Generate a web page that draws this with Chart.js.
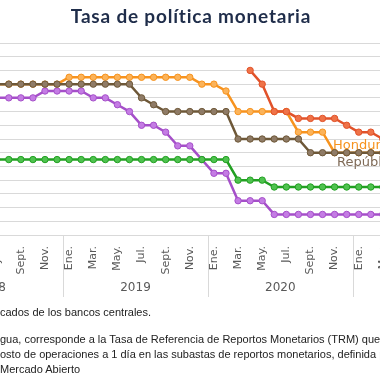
<!DOCTYPE html>
<html><head><meta charset="utf-8">
<script src="https://cdn.jsdelivr.net/npm/chart.js@4/dist/chart.umd.min.js"></script>
<style>
html,body{margin:0;padding:0;width:380px;height:380px;overflow:hidden;background:#fff;}
#wrap{position:relative;width:380px;height:380px;overflow:hidden;}
#title{position:absolute;left:0;top:4px;width:382px;text-align:center;font:bold 19px Lato, sans-serif;letter-spacing:0.8px;color:#1F2D4A;}
#c{position:absolute;top:0;left:-9px;}
.lbl{position:absolute;white-space:nowrap;font:13px 'DejaVu Sans', sans-serif;line-height:16px;}
.note{position:absolute;left:0;white-space:nowrap;font:11px 'Liberation Sans', Arial, sans-serif;color:#222;line-height:13px;}
</style></head><body>
<div id="wrap">
<canvas id="c" width="397" height="380"></canvas>
<div id="title">Tasa de política monetaria</div>
<div class="lbl" style="left:333px;top:137px;color:#F7931E">Honduras</div>
<div class="lbl" style="left:337px;top:154px;color:#7F6B58">República Dominicana</div>
<div class="note" style="top:306px">cados de los bancos centrales.</div>
<div class="note" style="top:333px">gua, corresponde a la Tasa de Referencia de Reportos Monetarios (TRM) que</div>
<div class="note" style="top:348px">osto de operaciones a 1 día en las subastas de reportos monetarios, definida por el</div>
<div class="note" style="top:363px">Mercado Abierto</div>
</div>
<script>
// Categories: monthly, Jul 2018 .. Mar 2021
const categories = ['Jul.','Ago.','Sept.','Oct.','Nov.','Dic.',
  'Ene.','Feb.','Mar.','Abr.','May.','Jun.','Jul.','Ago.','Sept.','Oct.','Nov.','Dic.',
  'Ene.','Feb.','Mar.','Abr.','May.','Jun.','Jul.','Ago.','Sept.','Oct.','Nov.','Dic.',
  'Ene.','Feb.','Mar.'];
// Year groups: label and category index of its January
const yearLabels = ['2018','2019','2020','2021'];
const yearStart = [-6, 6, 18, 30];

const costaRica = [5.0,5.0,5.0,5.0,5.25,5.25,
  5.25,5.25,5.0,5.0,4.75,4.5,4.0,4.0,3.75,3.25,3.25,2.75,
  2.25,2.25,1.25,1.25,1.25,0.75,0.75,0.75,0.75,0.75,0.75,0.75,
  0.75,0.75,0.75];
const guatemala = [2.75,2.75,2.75,2.75,2.75,2.75,
  2.75,2.75,2.75,2.75,2.75,2.75,2.75,2.75,2.75,2.75,2.75,2.75,
  2.75,2.75,2.0,2.0,2.0,1.75,1.75,1.75,1.75,1.75,1.75,1.75,
  1.75,1.75,1.75];
const honduras = [5.5,5.5,5.5,5.5,5.5,5.5,
  5.75,5.75,5.75,5.75,5.75,5.75,5.75,5.75,5.75,5.75,5.75,5.5,
  5.5,5.25,4.5,4.5,4.5,4.5,4.5,3.75,3.75,3.75,3.0,3.0,
  3.0,3.0,3.0];
const repDominicana = [5.5,5.5,5.5,5.5,5.5,5.5,
  5.5,5.5,5.5,5.5,5.5,5.5,5.0,4.75,4.5,4.5,4.5,4.5,
  4.5,4.5,3.5,3.5,3.5,3.5,3.5,3.5,3.0,3.0,3.0,3.0,
  3.0,3.0,3.0];
const nicaragua = [null,null,null,null,null,null,
  null,null,null,null,null,null,null,null,null,null,null,null,
  null,null,null,6.0,5.5,4.5,4.5,4.25,4.25,4.25,4.25,4.0,
  3.75,3.75,3.5];
const yTicks = {min:0, max:7, step:0.5};

function ds(label, data, line, fill, order){
  return {label, data, borderColor:line, backgroundColor:fill, pointBackgroundColor:fill,
    pointBorderColor:line, pointBorderWidth:1, pointRadius:3.2, borderWidth:2.5,
    tension:0, order, spanGaps:false};
}

const yearAxis = {
  id:'yearAxis',
  afterDraw(chart){
    const x = chart.scales.x, ctx = chart.ctx, b = chart.chartArea.bottom;
    ctx.save();
    ctx.strokeStyle = '#D9D9D9'; ctx.lineWidth = 1;
    yearStart.forEach((s) => {
      const px = Math.round(x.getPixelForValue(s - 0.5)) + 0.5;
      ctx.beginPath(); ctx.moveTo(px, b); ctx.lineTo(px, b + 62); ctx.stroke();
    });
    ctx.fillStyle = '#595959';
    ctx.font = '12px "DejaVu Sans", sans-serif';
    ctx.textAlign = 'center'; ctx.textBaseline = 'middle';
    yearLabels.forEach((t, i) => {
      const px = x.getPixelForValue(yearStart[i] + 5.5);
      ctx.fillText(t, px, b + 53);
    });
    ctx.restore();
  }
};

function config(){
  return {
  type:'line',
  data:{
    labels: categories,
    datasets:[
      ds('Guatemala', guatemala, '#22A022', '#4FC24F', 0),
      ds('Nicaragua', nicaragua, '#E1522A', '#EF7348', 1),
      ds('República Dominicana', repDominicana, '#6E5838', '#8F7B66', 2),
      ds('Costa Rica', costaRica, '#A54FC9', '#C47CE4', 3),
      ds('Honduras', honduras, '#F7931E', '#FBB35A', 4)
    ]
  },
  options:{
    responsive:false, maintainAspectRatio:false, animation:false, events:[],
    layout:{autoPadding:false, padding:{top:43, bottom:79, left:0, right:0}},
    plugins:{legend:{display:false}, tooltip:{enabled:false}, title:{display:false}},
    scales:{
      x:{
        offset:true,
        grid:{display:false, drawTicks:false},
        border:{display:true, color:'#D9D9D9', width:1},
        ticks:{autoSkip:false, maxRotation:90, minRotation:90, padding:11,
          color:'#595959', font:{family:'DejaVu Sans', size:11},
          callback:(v, i) => (i % 2 === 0 ? categories[i] : '')},
        afterFit:(s) => { s.height = 66; }
      },
      y:{
        min:yTicks.min, max:yTicks.max,
        ticks:{display:false, stepSize:yTicks.step},
        grid:{color:'#D9D9D9', drawTicks:false, lineWidth:1},
        border:{display:false},
        afterFit:(s) => { s.width = 0; }
      }
    }
  },
  plugins:[yearAxis]
  };
}

// layout: one month = 12.04 px, first category centre at x = -3.2 in the page
const monthPx = 12.04, firstCentre = -3.2;
const cv = document.getElementById('c');
let chart = new Chart(cv, config());
let xs = chart.scales.x;
let step = xs.getPixelForValue(1) - xs.getPixelForValue(0);
if (Math.abs(step - monthPx) > 0.05) {
  const w = Math.round(cv.width + (monthPx - step) * categories.length);
  chart.destroy();
  cv.width = w; cv.height = 380;
  cv.style.width = w + 'px'; cv.style.height = '380px';
  chart = new Chart(cv, config());
  xs = chart.scales.x;
}
cv.style.left = (firstCentre - xs.getPixelForValue(0)) + 'px';
</script>
</body></html>
